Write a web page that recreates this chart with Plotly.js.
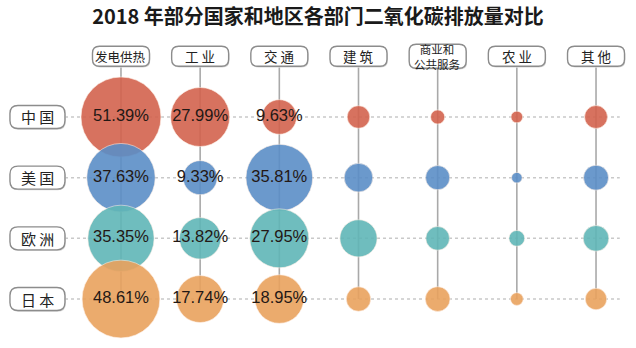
<!DOCTYPE html>
<html>
<head>
<meta charset="utf-8">
<script src="https://cdn.plot.ly/plotly-3.0.1.min.js"></script>
<style>html,body{margin:0;padding:0;background:#fff;}#chart{width:636px;height:348px;}</style>
</head>
<body>
<div id="chart"></div>
<script>
// ---- data ----
var categories = ['发电供热', '工业', '交通', '建筑', '商业和公共服务', '农业', '其他'];
var categoryLabels = ['发电供热', '工 业', '交 通', '建 筑', '商业和<br>公共服务', '农 业', '其 他'];
var regions = ['中国', '美国', '欧洲', '日本'];
var regionLabels = ['中 国', '美 国', '欧 洲', '日 本'];
var china  = [51.39, 27.99, 9.63, 4.1, 1.6, 1.1, 4.2];
var usa    = [37.63, 9.33, 35.81, 6.6, 4.7, 0.9, 5.0];
var europe = [35.35, 13.82, 27.95, 11.1, 4.5, 2.0, 5.3];
var japan  = [48.61, 17.74, 18.95, 4.8, 4.9, 1.3, 3.7];
var labeledColumns = ['发电供热', '工业', '交通'];

var series = [china, usa, europe, japan];
var colors = ['#d3634e', '#5b8ec7', '#60b6b7', '#e9a25e'];

var xIdx = categories.map(function (c, i) { return i; });

var traces = series.map(function (vals, r) {
  return {
    type: 'scatter',
    mode: 'markers+text',
    x: xIdx,
    y: categories.map(function () { return r; }),
    text: vals.map(function (v, i) {
      return labeledColumns.indexOf(categories[i]) >= 0 ? v.toFixed(2) + '%' : '';
    }),
    textposition: 'middle center',
    textfont: { family: 'Liberation Sans, Arial, sans-serif', size: 16.5, color: '#231815' },
    marker: {
      size: vals,
      sizemode: 'area',
      sizeref: 0.01606,
      color: colors[r],
      opacity: 0.9,
      line: { width: 1, color: 'rgba(255,240,230,0.6)' }
    },
    hoverinfo: 'skip',
    cliponaxis: false,
    showlegend: false,
    name: regions[r]
  };
});

// ---- decoration ----
function roundRect(w, h, r, dx, dy) {
  dx = dx || 0; dy = dy || 0;
  var x0 = -w / 2 + dx, x1 = w / 2 + dx, y0 = -h / 2 + dy, y1 = h / 2 + dy;
  return 'M' + (x0 + r) + ',' + y0 + ' L' + (x1 - r) + ',' + y0 +
    ' Q' + x1 + ',' + y0 + ' ' + x1 + ',' + (y0 + r) +
    ' L' + x1 + ',' + (y1 - r) +
    ' Q' + x1 + ',' + y1 + ' ' + (x1 - r) + ',' + y1 +
    ' L' + (x0 + r) + ',' + y1 +
    ' Q' + x0 + ',' + y1 + ' ' + x0 + ',' + (y1 - r) +
    ' L' + x0 + ',' + (y0 + r) +
    ' Q' + x0 + ',' + y0 + ' ' + (x0 + r) + ',' + y0 + ' Z';
}

var shapes = [];
var annotations = [];
var colLabelY = -1.0, rowLabelX = -1.055;

// horizontal dotted lines
regions.forEach(function (r, j) {
  shapes.push({ type: 'line', layer: 'below', xref: 'x', yref: 'y',
    x0: -0.707, x1: 6.3, y0: j, y1: j,
    line: { color: '#c9c9c9', width: 1.5, dash: 'dot' } });
});
// vertical lines
categories.forEach(function (c, i) {
  shapes.push({ type: 'line', layer: 'below', xref: 'x', yref: 'y',
    x0: i, x1: i, y0: -0.82, y1: regions.length - 1,
    line: { color: '#a9a9a9', width: 1.6 } });
});
// column label boxes
categories.forEach(function (c, i) {
  var h = (c.length > 4) ? 24 : 20;
  shapes.push({ type: 'path', layer: 'above', xref: 'x', yref: 'y',
    xsizemode: 'pixel', ysizemode: 'pixel', xanchor: i, yanchor: colLabelY,
    path: roundRect(57, h, 7, 0.8, -1.2),
    fillcolor: '#d6d6d6', line: { width: 0 } });
  shapes.push({ type: 'path', layer: 'above', xref: 'x', yref: 'y',
    xsizemode: 'pixel', ysizemode: 'pixel', xanchor: i, yanchor: colLabelY,
    path: roundRect(57, h, 7),
    fillcolor: '#ffffff', line: { color: '#8c8c8c', width: 1.4 } });
  annotations.push({ xref: 'x', yref: 'y', x: i, y: colLabelY,
    text: categoryLabels[i], showarrow: false,
    font: { family: 'Noto Sans CJK SC, sans-serif', size: c.length > 4 ? 11.5 : (c.length > 2 ? 12.5 : 13.5), color: '#222' } });
});
// row label boxes
regions.forEach(function (r, j) {
  shapes.push({ type: 'path', layer: 'above', xref: 'x', yref: 'y',
    xsizemode: 'pixel', ysizemode: 'pixel', xanchor: rowLabelX, yanchor: j,
    path: roundRect(55, 23, 8, 0.8, -1.2),
    fillcolor: '#d6d6d6', line: { width: 0 } });
  shapes.push({ type: 'path', layer: 'above', xref: 'x', yref: 'y',
    xsizemode: 'pixel', ysizemode: 'pixel', xanchor: rowLabelX, yanchor: j,
    path: roundRect(55, 23, 8),
    fillcolor: '#ffffff', line: { color: '#8c8c8c', width: 1.4 } });
  annotations.push({ xref: 'x', yref: 'y', x: rowLabelX, y: j,
    text: regionLabels[j], showarrow: false,
    font: { family: 'Noto Sans CJK SC, sans-serif', size: 15, color: '#222' } });
});

var layout = {
  width: 636, height: 348,
  margin: { l: 0, r: 0, t: 0, b: 0 },
  paper_bgcolor: '#ffffff', plot_bgcolor: '#ffffff',
  title: {
    text: '2018 年部分国家和地区各部门二氧化碳排放量对比',
    x: 0.5, xanchor: 'center', y: 0.952, yanchor: 'middle', yref: 'container',
    font: { family: 'Noto Sans CJK SC, sans-serif', size: 20, color: '#1a1a1a', weight: 'bold' }
  },
  xaxis: { range: [-1.528, 6.505], visible: false, fixedrange: true },
  yaxis: { range: [3.807, -1.928], visible: false, fixedrange: true },
  shapes: shapes,
  annotations: annotations,
  showlegend: false
};

Plotly.newPlot('chart', traces, layout, { displayModeBar: false, staticPlot: true });
</script>
</body>
</html>
